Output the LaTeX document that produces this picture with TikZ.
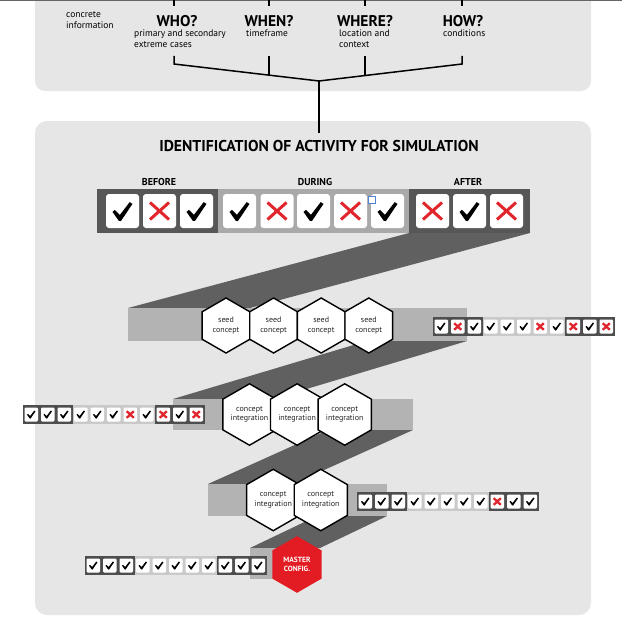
\documentclass[tikz,border=0pt]{standalone}
\usepackage{fontspec}
\setmainfont{PT Sans}
\usetikzlibrary{shapes.geometric}
\definecolor{panelgray}{HTML}{E6E6E6}
\definecolor{bardark}{HTML}{575757}
\definecolor{barmid}{HTML}{A9A9A9}
\definecolor{bandgray}{HTML}{606060}
\definecolor{stripgray}{HTML}{B3B3B3}
\definecolor{cldark}{HTML}{4E4E4E}
\definecolor{cllight}{HTML}{C9C9C9}
\definecolor{xred}{HTML}{E1252C}
\definecolor{mred}{HTML}{E31B23}
\definecolor{selblue}{HTML}{4F82D6}
\tikzset{
  treeline/.style={line width=1.5pt, black},
  qword/.style={font=\bfseries\fontsize{15.5}{16}\selectfont, inner sep=0pt},
  qnote/.style={font=\fontsize{9.5}{11}\selectfont, align=left, inner sep=0pt, anchor=north west},
  titlestyle/.style={font=\bfseries\fontsize{15.7}{16}\selectfont, inner sep=0pt},
  phaselbl/.style={font=\bfseries\fontsize{10}{10}\selectfont, inner sep=0pt},
  bigbox/.style={fill=white, rounded corners=3pt, draw=none, minimum width=33pt, minimum height=34pt, inner sep=0pt},
  smallbox/.style={fill=white, rounded corners=1.2pt, draw=none, minimum width=13.5pt, minimum height=14pt, inner sep=0pt},
  hexnode/.style={regular polygon, regular polygon sides=6, regular polygon rotate=30, minimum size=55pt, inner sep=0pt, draw=black, line width=1.4pt, fill=white, font=\fontsize{8}{9.3}\selectfont, align=center, text=black!85},
  masterhex/.style={hexnode, fill=mred, draw=mred, text=white, font=\bfseries\fontsize{7.5}{9}\selectfont},
  chk/.pic={\fill[black] (-0.5,0.02) -- (-0.38,-0.08) -- (-0.13,0.17) -- (0.36,-0.47) -- (0.5,-0.38) -- (-0.08,0.48) -- (-0.19,0.46) -- cycle;},
  bigx/.pic={\draw[xred, line width=3pt] (-9.5,-8.5) -- (9.5,8.5) (-9.5,8.5) -- (9.5,-8.5);},
  smallx/.pic={\draw[xred, line width=2.3pt] (-3.5,-3.3) -- (3.5,3.3) (-3.5,3.3) -- (3.5,-3.3);},
}
\newcommand{\smallcl}[4]{%
  \fill[cldark] (#2,#3) rectangle ++(49.5,19);
  \fill[cllight] (#2+49.5,#3) rectangle ++(82.5,19);
  \fill[cldark] (#2+132,#3) rectangle ++(49.5,19);
  \foreach \s [count=\i from 0] in {#4}{
    \node[smallbox] (#1-\i) at ({#2+8.25+16.5*\i},{#3+9.5}) {};
    \if\s c \pic[scale=8.5] at (#1-\i) {chk};\else \pic at (#1-\i) {smallx};\fi
  }
}
\begin{document}
\begin{tikzpicture}[x=1pt,y=-1pt]
\useasboundingbox (0,0) rectangle (622,626);
\clip (0,0) rectangle (622,626);
\fill[white] (0,0) rectangle (622,626);
% panels
\fill[panelgray, rounded corners=10pt] (35,-30) rectangle (591,91);
\fill[panelgray, rounded corners=12pt] (35,121) rectangle (591,615);
\draw[black!60, line width=1.2pt] (0,0.4) -- (622,0.4);
% top texts
\node[qnote] (conc) at (66,11.5) {concrete\\information};
\node[qword] (who) at (177,21.5) {WHO?};
\node[qnote] (whon) at (134,30) {primary and secondary\\extreme cases};
\node[qword] (when) at (269,21.5) {WHEN?};
\node[qnote] (whenn) at (246,30) {timeframe};
\node[qword] (where) at (365,21.5) {WHERE?};
\node[qnote] (wheren) at (339,30) {location and\\context};
\node[qword] (how) at (463,21.5) {HOW?};
\node[qnote] (hown) at (443,30) {conditions};
% ticks at top
\foreach \x/\n in {174/a,269/b,365/c,462/d}{
  \coordinate (top\n) at (\x,-1);
  \coordinate (topE\n) at (\x,6);
  \draw[treeline] (top\n) -- (topE\n);
}
% tree
\coordinate (J) at (319,81);
\coordinate (whoS) at (174,56);  \coordinate (whoK) at (174,64);
\coordinate (whenS) at (269,56); \coordinate (whenK) at (269,75.1);
\coordinate (whereS) at (365,56); \coordinate (whereK) at (365,75.5);
\coordinate (howS) at (462,56);  \coordinate (howK) at (462,64);
\coordinate (Jend) at (319,133);
\draw[treeline] (whoS) -- (whoK) -- (J) -- (howK) -- (howS);
\draw[treeline] (whenS) -- (whenK);
\draw[treeline] (whereS) -- (whereK);
\draw[treeline] (J) -- (Jend);
% title
\node[titlestyle] (title) at (319,146) {IDENTIFICATION OF ACTIVITY FOR SIMULATION};
\node[phaselbl] (before) at (159,182) {BEFORE};
\node[phaselbl] (during) at (315,182) {DURING};
\node[phaselbl] (after) at (468,182) {AFTER};
% ribbon bands
\fill[bandgray] (409,233) -- (530,233) -- (250,308) -- (128,308) -- cycle;
\fill[bandgray] (367,341) -- (467,341) -- (273,399) -- (173,399) -- cycle;
\fill[bandgray] (328,430) -- (413,430) -- (293,484) -- (208,484) -- cycle;
\fill[bandgray] (317,516) -- (387,516) -- (320,548) -- (250,548) -- cycle;
% strips
\fill[stripgray] (128,308) rectangle (467,341);
\fill[stripgray] (173,399) rectangle (413,430);
\fill[stripgray] (208,484) rectangle (387,516);
\fill[stripgray] (250,548) rectangle (300,579);
% big bar
\fill[bardark] (97,189) rectangle (218,233);
\fill[barmid] (218,189) rectangle (409,233);
\fill[bardark] (409,189) rectangle (530,233);
\foreach \cx/\s [count=\i] in {122.5/c,159.5/x,196.5/c,239.5/c,277/x,313.5/c,350.5/x,387.5/c,432.5/x,469.5/c,506.5/x}{
  \node[bigbox] (B\i) at (\cx,211) {};
  \if\s c \pic[scale=20] at (\cx,211.5) {chk};\else \pic at (\cx,211) {bigx};\fi
}
\draw[selblue, fill=white, line width=0.8pt] (368,196) rectangle (375,203);
% hexagons level 2
\foreach \cx [count=\i] in {226,273.6,321.2,368.8}{
  \node[hexnode] (seed\i) at (\cx,325.5) {seed\\concept};
}
% level 3
\foreach \cx [count=\i] in {249.5,297.1,344.7}{
  \node[hexnode] (ci\i) at (\cx,414.5) {concept\\integration};
}
% level 4
\foreach \cx [count=\i] in {273.2,320.8}{
  \node[hexnode] (cj\i) at (\cx,500) {concept\\integration};
}
% master
\node[masterhex] (master) at (297,564.5) {MASTER\\CONFIG.};
% small checklists
\smallcl{Lb}{433}{317}{c,x,c,c,c,c,x,c,x,c,x}
\smallcl{Lc}{23}{405}{c,c,c,c,c,c,x,c,x,c,x}
\smallcl{Ld}{357}{492}{c,c,c,c,c,c,c,c,x,c,c}
\smallcl{Le}{85}{556}{c,c,c,c,c,c,c,c,c,c,c}
\end{tikzpicture}
\end{document}
